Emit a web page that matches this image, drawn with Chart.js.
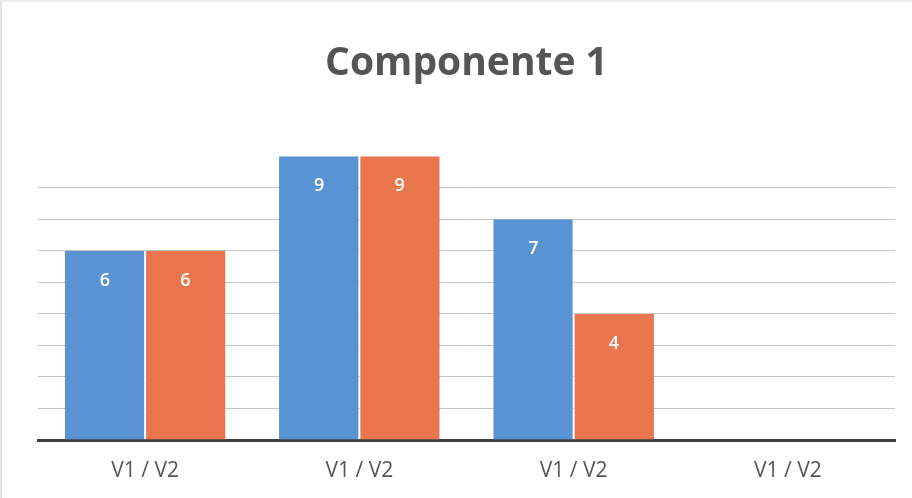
<!DOCTYPE html>
<html>
<head>
<meta charset="utf-8">
<script src="https://cdn.jsdelivr.net/npm/chart.js@4/dist/chart.umd.min.js"></script>
<style>
  html, body { margin: 0; padding: 0; background: #fff; }
  #wrap { width: 912px; height: 498px; position: relative; box-sizing: border-box; border-left: 2px solid #e4e4e4; border-top: 2px solid #ececec; }
  canvas { display: block; }
</style>
</head>
<body>
<div id="wrap"><canvas id="chart" width="910" height="496"></canvas></div>
<script>
  // valores
  const categories = ['V1 / V2', 'V1 / V2', 'V1 / V2', 'V1 / V2'];
  const serie1 = [6, 9, 7, null];
  const serie2 = [6, 9, 4, null];

  // etiquetas blancas dentro del extremo de cada barra
  const insideLabels = {
    id: 'insideLabels',
    afterDatasetsDraw(chart) {
      const ctx = chart.ctx;
      ctx.save();
      ctx.fillStyle = '#ffffff';
      ctx.font = '600 18px "Open Sans"';
      ctx.textAlign = 'center';
      ctx.textBaseline = 'middle';
      chart.data.datasets.forEach((ds, i) => {
        chart.getDatasetMeta(i).data.forEach((bar, j) => {
          const v = ds.data[j];
          if (v == null) return;
          ctx.fillText(String(v), bar.x, bar.y + 30);
        });
      });
      ctx.restore();
    }
  };

  new Chart(document.getElementById('chart'), {
    type: 'bar',
    data: {
      labels: categories,
      datasets: [
        { label: 'V1', data: serie1, backgroundColor: '#5a93d3', borderColor: '#ffffff', borderWidth: { right: 1 }, borderSkipped: false },
        { label: 'V2', data: serie2, backgroundColor: '#ea7650', borderColor: '#ffffff', borderWidth: { left: 1 }, borderSkipped: false }
      ]
    },
    options: {
      responsive: false,
      animation: false,
      devicePixelRatio: 1,
      layout: { padding: { left: 36, right: 17, bottom: 0 } },
      datasets: { bar: { categoryPercentage: 0.75, barPercentage: 1 } },
      plugins: {
        legend: { display: false },
        tooltip: { enabled: false },
        title: {
          display: true,
          text: 'Componente 1',
          color: '#555555',
          font: { family: '"Open Sans"', size: 39, weight: 'bold' },
          padding: { top: 38, bottom: 38 }
        }
      },
      scales: {
        x: {
          grid: { display: false },
          border: { display: true, color: '#404040', width: 3 },
          ticks: { color: '#555555', font: { family: '"Open Sans"', size: 21 }, padding: 10 },
          afterFit(scale) { scale.height = 58; }
        },
        y: {
          min: 0, max: 10,
          ticks: { display: false, stepSize: 1 },
          border: { display: false },
          grid: {
            drawTicks: false,
            color: c => (c.tick.value > 0 && c.tick.value <= 8) ? 'rgba(140,140,140,0.5)' : 'rgba(0,0,0,0)'
          },
          afterFit(scale) { scale.width = 0; }
        }
      }
    },
    plugins: [insideLabels]
  });
</script>
</body>
</html>
